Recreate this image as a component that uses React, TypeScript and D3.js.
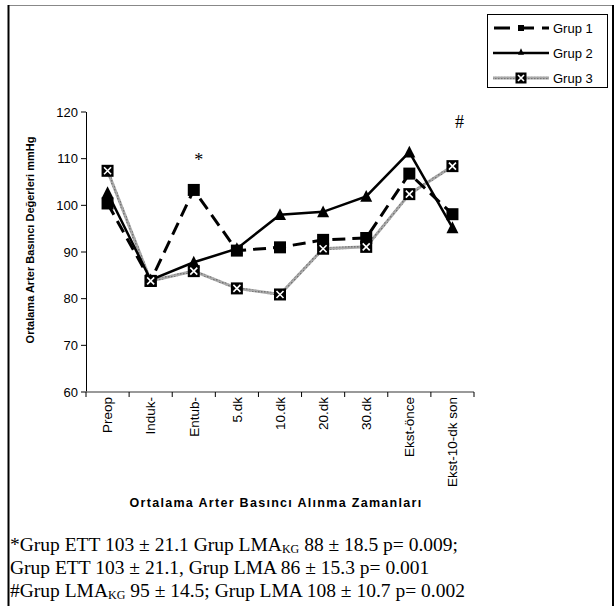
import React from "react";
import * as d3 from "d3";

const categories = ["Preop", "Induk-", "Entub-", "5.dk", "10.dk", "20.dk", "30.dk", "Ekst-önce", "Ekst-10-dk son"];
const grup1 = [100.4, 83.8, 103.3, 90.3, 91.0, 92.6, 93.0, 106.8, 98.1];
const grup2 = [102.7, 84.0, 87.8, 90.7, 98.0, 98.6, 101.9, 111.4, 95.2];
const grup3 = [107.4, 83.8, 85.9, 82.2, 80.9, 90.7, 91.1, 102.4, 108.4];
const yTicks = [60, 70, 80, 90, 100, 110, 120];
const seriesNames = ["Grup 1", "Grup 2", "Grup 3"];
const footnotes = [
  ["*Grup ETT 103 ± 21.1 Grup LMA", "KG", " 88 ± 18.5 p= 0.009;"],
  ["Grup ETT 103 ± 21.1, Grup LMA 86 ± 15.3 p= 0.001", "", ""],
  ["#Grup LMA", "KG", " 95 ± 14.5; Grup LMA 108 ± 10.7 p= 0.002"],
];

const W = 616, H = 606;
const plotL = 86, plotR = 474, plotT = 112, plotB = 392;

function Square({ x, y, s }: { x: number; y: number; s: number }) {
  return <rect x={x - s / 2} y={y - s / 2} width={s} height={s} fill="#000" />;
}
function Tri({ x, y, s }: { x: number; y: number; s: number }) {
  const h = s * 0.9;
  return <path d={`M${x},${y - h / 2 - 1}L${x + s / 2},${y + h / 2}L${x - s / 2},${y + h / 2}Z`} fill="#000" />;
}
function XBox({ x, y, s }: { x: number; y: number; s: number }) {
  const a = s / 2 - 2.5;
  return (
    <g>
      <rect x={x - s / 2} y={y - s / 2} width={s} height={s} fill="#000" />
      <path d={`M${x - a},${y - a}L${x + a},${y + a}M${x + a},${y - a}L${x - a},${y + a}`} stroke="#fff" strokeWidth={1.6} />
    </g>
  );
}

export default function App() {
  const x = d3.scaleBand<string>().domain(categories).range([plotL, plotR]);
  const y = d3.scaleLinear().domain([60, 120]).range([plotB, plotT]);
  const cx = (c: string) => (x(c) as number) + x.bandwidth() / 2;
  const line = d3
    .line<[string, number]>()
    .x((d) => cx(d[0]))
    .y((d) => y(d[1]));
  const d1 = categories.map((c, i) => [c, grup1[i]] as [string, number]);
  const d2 = categories.map((c, i) => [c, grup2[i]] as [string, number]);
  const d3d = categories.map((c, i) => [c, grup3[i]] as [string, number]);
  const boundaries = categories.map((c) => x(c) as number).concat([plotR]);
  const sans = "'Liberation Sans', Arial, sans-serif";
  const serif = "'Liberation Serif', 'Times New Roman', serif";

  return (
    <svg width={W} height={H} style={{ position: "absolute", left: 0, top: 0 }}>
      <defs>
        <pattern id="hatch" width="3" height="3" patternUnits="userSpaceOnUse">
          <rect width="3" height="3" fill="#aaa" />
          <rect width="1.5" height="1.5" fill="#777" />
        </pattern>
      </defs>
      <rect x={0} y={0} width={W} height={H} fill="#fff" />
      {/* frame */}
      <line x1={8} y1={5.5} x2={613} y2={5.5} stroke="#888" strokeWidth={1} />
      <line x1={8.5} y1={5} x2={8.5} y2={H} stroke="#000" strokeWidth={2} />
      <line x1={613} y1={5} x2={613} y2={H} stroke="#000" strokeWidth={2} />

      {/* y axis */}
      <line x1={plotL + 0.5} y1={plotT} x2={plotL + 0.5} y2={plotB} stroke="#000" strokeWidth={1} />
      {yTicks.map((t) => (
        <g key={t}>
          <line x1={plotL - 5} x2={plotL} y1={y(t)} y2={y(t)} stroke="#000" />
          <text x={plotL - 8} y={y(t)} dy="0.35em" textAnchor="end" fontFamily={sans} fontSize={13}>
            {t}
          </text>
        </g>
      ))}
      <text
        transform={`translate(34,${(plotT + plotB) / 2 - 12}) rotate(-90)`}
        textAnchor="middle"
        fontFamily={sans}
        fontWeight="bold"
        fontSize={11}
      >
        Ortalama Arter Basıncı Değerleri mmHg
      </text>

      {/* x axis */}
      <line x1={plotL} x2={plotR} y1={plotB} y2={plotB} stroke="#777" strokeWidth={1.5} />
      {boundaries.map((b, i) => (
        <line key={i} x1={b} x2={b} y1={plotB} y2={plotB + 5} stroke="#000" />
      ))}
      {categories.map((c) => (
        <text
          key={c}
          transform={`translate(${cx(c)},${plotB + 5}) rotate(-90)`}
          textAnchor="end"
          dy="0.35em"
          fontFamily={sans}
          fontSize={13.5}
        >
          {c}
        </text>
      ))}
      <text
        x={(plotL + plotR) / 2 - 4}
        y={507}
        textAnchor="middle"
        fontFamily={sans}
        fontWeight="bold"
        fontSize={12.5}
        letterSpacing={1.3}
      >
        Ortalama Arter Basıncı Alınma Zamanları
      </text>

      {/* series 3 */}
      <path d={line(d3d) || ""} fill="none" stroke="url(#hatch)" strokeWidth={3} />
      {/* series 2 */}
      <path d={line(d2) || ""} fill="none" stroke="#000" strokeWidth={2.5} />
      {/* series 1 */}
      <path d={line(d1) || ""} fill="none" stroke="#000" strokeWidth={3} strokeDasharray="13,7" />
      {d1.map((d) => (
        <Square key={"s" + d[0]} x={cx(d[0])} y={y(d[1])} s={12} />
      ))}
      {d2.map((d) => (
        <Tri key={"t" + d[0]} x={cx(d[0])} y={y(d[1])} s={12} />
      ))}
      {d3d.map((d) => (
        <XBox key={"x" + d[0]} x={cx(d[0])} y={y(d[1])} s={12} />
      ))}

      {/* annotations */}
      <text x={cx("Entub-") + 5} y={166} textAnchor="middle" fontFamily={serif} fontSize={18}>
        *
      </text>
      <text x={cx("Ekst-10-dk son") + 7} y={128} textAnchor="middle" fontFamily={serif} fontSize={18}>
        #
      </text>

      {/* legend */}
      <rect x={487.5} y={14.5} width={120} height={73} fill="#fff" stroke="#000" strokeWidth={1} />
      {seriesNames.map((n, i) => {
        const ly = 28 + i * 25;
        return (
          <g key={n}>
            {i === 0 && (
              <>
                <line x1={493} x2={549} y1={ly} y2={ly} stroke="#000" strokeWidth={3} strokeDasharray="16,8" strokeDashoffset={-1} />
                <Square x={521} y={ly} s={6} />
              </>
            )}
            {i === 1 && (
              <>
                <line x1={493} x2={549} y1={ly} y2={ly} stroke="#000" strokeWidth={2.5} />
                <Tri x={521} y={ly - 1} s={6} />
              </>
            )}
            {i === 2 && (
              <>
                <line x1={493} x2={549} y1={ly} y2={ly} stroke="url(#hatch)" strokeWidth={3} />
                <XBox x={521} y={ly} s={11} />
              </>
            )}
            <text x={553} y={ly} dy="0.35em" fontFamily={sans} fontSize={13}>
              {n}
            </text>
          </g>
        );
      })}

      {/* footnotes */}
      {footnotes.map((f, i) => (
        <text key={i} x={10} y={551 + i * 23} fontFamily={serif} fontSize={19.5}>
          {f[0]}
          {f[1] && (
            <tspan fontSize={12} dy={2}>
              {f[1]}
            </tspan>
          )}
          {f[2] && <tspan dy={f[1] ? -2 : 0}>{f[2]}</tspan>}
        </text>
      ))}
    </svg>
  );
}
